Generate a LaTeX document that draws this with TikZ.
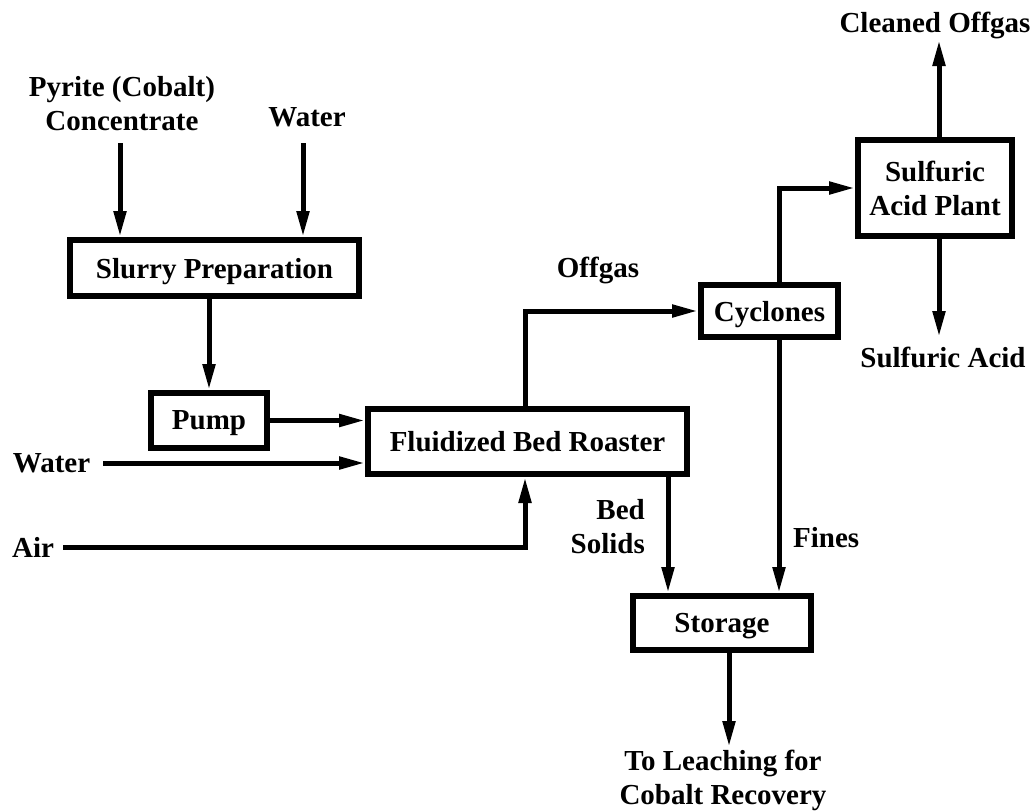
\documentclass[tikz,border=0pt]{standalone}
\usepackage{fontspec}
\setmainfont{Liberation Serif}
\usetikzlibrary{arrows.meta}

\newcommand{\flowfont}{\fontsize{29pt}{34pt}\selectfont\bfseries}

\begin{document}
\begin{tikzpicture}[x=1pt,y=-1pt,
    unit/.style={draw, line width=6pt, inner sep=0pt, text depth=0pt, align=center, font=\flowfont},
    stream/.style={line width=5pt, -{Triangle[length=26pt,width=12pt]}},
    lbl/.style={inner sep=0pt, align=center, font=\flowfont}]

\useasboundingbox (0,0) rectangle (1031,811);

\node [unit, minimum width=289pt, minimum height=56pt] (slurry)    at (214.5,268)   {Slurry Preparation};
\node [unit, minimum width=116pt, minimum height=55pt] (pump)      at (209,420.5)   {Pump};
\node [unit, minimum width=319pt, minimum height=65pt] (roaster)   at (527.5,441.5) {Fluidized Bed Roaster};
\node [unit, minimum width=137pt, minimum height=52pt] (cyclones)  at (769.5,311)   {Cyclones};
\node [unit, minimum width=154pt, minimum height=96pt] (acidplant) at (935,188)     {Sulfuric\\Acid Plant};
\node [unit, minimum width=178pt, minimum height=54pt] (storage)   at (722,623)     {Storage};

\node [lbl] (pyrite)   at (122,104)  {Pyrite (Cobalt)\\Concentrate};
\node [lbl] (water)    at (307,117)  {Water};
\node [lbl] (waterb)   at (51.5,463) {Water};
\node [lbl] (air)      at (33,547)   {Air};
\node [lbl] (offgas)   at (598,270)  {Offgas};
\node [lbl, anchor=east, align=right] (bedsolids) at (645,527) {Bed\\Solids};
\node [lbl, anchor=west] (fines) at (793,538) {Fines};
\node [lbl] (cleaned)  at (935,25)   {Cleaned Offgas};
\node [lbl] (acid)     at (943,357)  {Sulfuric Acid};
\node [lbl] (leaching) at (723,780)  {To Leaching for\\Cobalt Recovery};

\coordinate (pyritein)   at (120,143);
\coordinate (waterin)    at (303,143);
\coordinate (waterbin)   at (103,463);
\coordinate (airin)      at (63,547);
\coordinate (cleanedout) at (939,40);
\coordinate (acidout)    at (939,337);
\coordinate (leachout)   at (729,747);

% feeds
\draw [stream] (pyritein) -- (pyritein |- slurry.north);
\draw [stream] (waterin) -- (waterin |- slurry.north);
\draw [stream] (pump.north |- slurry.south) -- (pump.north);
\draw [stream] (pump.east) -- (pump.east -| roaster.west);
\draw [stream] (waterbin) -- (waterbin -| roaster.west);
\draw [stream] (airin) -| ([xshift=-2.5pt]roaster.south);

% products
\draw [stream] ([xshift=-2.5pt]roaster.north) |- (cyclones.west);
\draw [stream] ([xshift=9.5pt]cyclones.north) |- (acidplant.west);
\draw [stream] (acidplant.north -| cleanedout) -- (cleanedout);
\draw [stream] (acidplant.south -| acidout) -- (acidout);
\draw [stream] ([xshift=140.5pt]roaster.south) -- ([xshift=140.5pt]roaster.south |- storage.north);
\draw [stream] ([xshift=9.5pt]cyclones.south) -- ([xshift=9.5pt]cyclones.south |- storage.north);
\draw [stream] (storage.south -| leachout) -- (leachout);

\end{tikzpicture}
\end{document}
